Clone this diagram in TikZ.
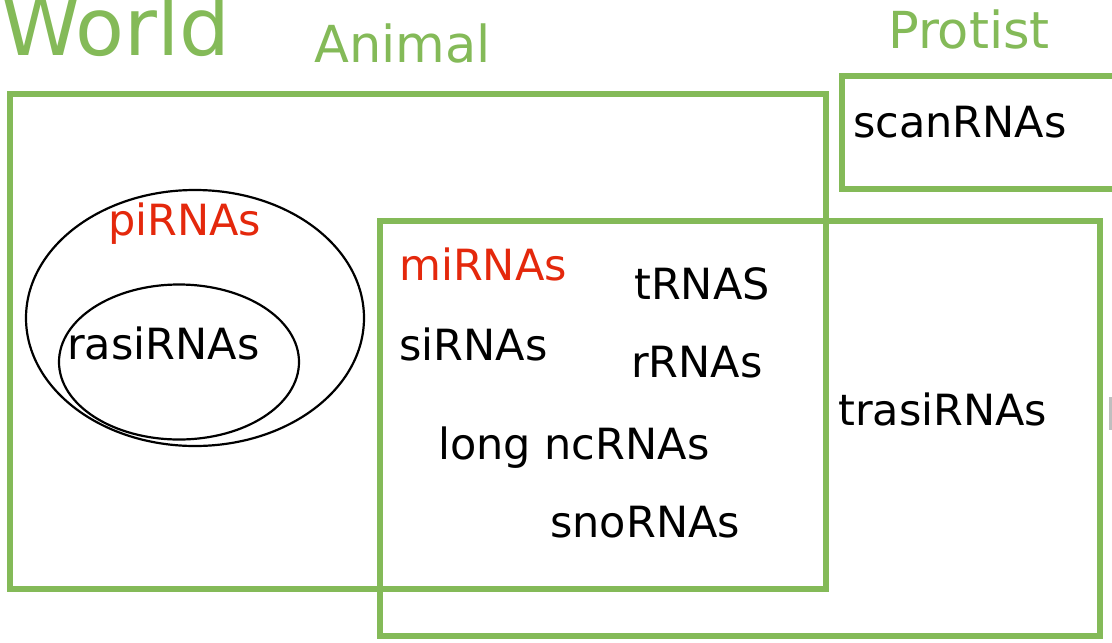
\documentclass[tikz,border=0pt]{standalone}
\usepackage{fontspec}
\setmainfont{DejaVu Sans}
\usetikzlibrary{shapes.geometric}
\definecolor{kgreen}{RGB}{132,186,88}
\definecolor{kred}{RGB}{228,40,12}
\begin{document}
\begin{tikzpicture}[x=1pt,y=-1pt,
  grpbox/.style={draw=kgreen,line width=5.5pt},
  ring/.style={draw=black,line width=2.2pt},
  lbl/.style={anchor=base west,inner sep=0pt,font=\fontsize{43}{50}\selectfont},
  title/.style={anchor=base west,inner sep=0pt,text=kgreen,font=\fontsize{51}{58}\selectfont}]
\useasboundingbox (0,0) rectangle (1112,643);
\clip (0,0) rectangle (1112,643);
\fill[white] (0,0) rectangle (1112,643);

% group frames
\draw[grpbox] (10,94) rectangle (826,589);
\draw[grpbox] (842,76) rectangle (1130,189);
\draw[grpbox] (380,221) rectangle (1100,636);

% piRNA sets
\node[ring,ellipse,minimum width=338pt,minimum height=256pt,inner sep=0pt] (pi) at (195,318) {};
\node[ring,ellipse,minimum width=240pt,minimum height=155pt,inner sep=0pt] (rasi) at (179,362) {};

% titles
\node[anchor=base west,inner sep=0pt,text=kgreen,font=\fontsize{80}{90}\selectfont] (world) at (1,55) {World};
\node[title] (animal) at (314,62) {Animal};
\node[title] (protist) at (888,48) {Protist};

% RNA classes
\node[lbl,text=kred] (pirnas) at (108,235) {piRNAs};
\node[lbl] (rasirnas) at (67,359) {rasiRNAs};
\node[lbl,text=kred] (mirnas) at (399,280) {miRNAs};
\node[lbl] (sirnas) at (399,360) {siRNAs};
\node[lbl] (trnas) at (634,299) {tRNAS};
\node[lbl] (rrnas) at (631,377) {rRNAs};
\node[lbl] (longnc) at (438,459) {long ncRNAs};
\node[lbl] (snornas) at (550,537) {snoRNAs};
\node[lbl] (trasirnas) at (838,425) {trasiRNAs};
\node[lbl] (scanrnas) at (853,137) {scanRNAs};

% edge of a cut-off label
\fill[black!25] (1109,397) rectangle (1113,430);
\end{tikzpicture}
\end{document}
